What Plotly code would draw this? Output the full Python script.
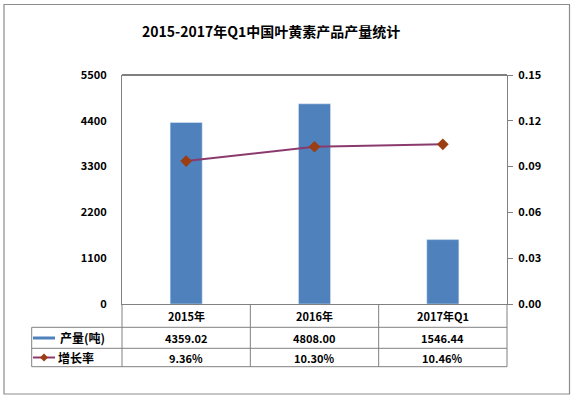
import plotly.graph_objects as go

categories = ["2015年", "2016年", "2017年Q1"]
output_tons = [4359.02, 4808.00, 1546.44]
growth_rate = [0.0936, 0.1030, 0.1046]
left_ticks = [0, 1100, 2200, 3300, 4400, 5500]
right_ticks = [0.00, 0.03, 0.06, 0.09, 0.12, 0.15]
series_names = ["产量(吨)", "增长率"]
title_text = "2015-2017年Q1中国叶黄素产品产量统计"

W, H = 574, 399
L, R, T, B = 122, 67, 75, 95
PW, PH = W - L - R, H - T - B
FONT = "Noto Sans CJK SC, Noto Sans, sans-serif"
BAR_C = "#4F81BD"
LINE_C = "#8B3A6E"
MARK_C = "#9C3D12"
GRID_C = "#808080"


def px_x(p):
    return (p - L) / PW


def px_y(p):
    return (H - B - p) / PH


fig = go.Figure()
fig.add_trace(go.Bar(x=categories, y=output_tons, width=0.25, marker_color=BAR_C,
                     name=series_names[0], yaxis="y"))
fig.add_trace(go.Scatter(x=categories, y=growth_rate, mode="lines+markers", name=series_names[1],
                         yaxis="y2", line=dict(color=LINE_C, width=2),
                         marker=dict(symbol="diamond", size=9, color=MARK_C)))

shapes = []


def hline(y, x0, x1, color=GRID_C):
    shapes.append(dict(type="line", xref="paper", yref="paper", x0=px_x(x0), x1=px_x(x1),
                       y0=px_y(y), y1=px_y(y), line=dict(color=color, width=1)))


def vline(x, y0, y1, color=GRID_C):
    shapes.append(dict(type="line", xref="paper", yref="paper", x0=px_x(x), x1=px_x(x),
                       y0=px_y(y0), y1=px_y(y1), line=dict(color=color, width=1)))


# top border of plot area
hline(T, L, L + PW, "#000000")
# table lines
for yy in [327.3, 348.3, 366.7]:
    hline(yy, 31.7, L + PW)
vline(31.7, 327.3, 366.7)
vline(L, 304, 366.7)
vline(L + PW, 304, 366.7)
for k in range(1, len(categories)):
    shapes.append(dict(type="line", xref="x", yref="paper", x0=k - 0.5, x1=k - 0.5,
                       y0=px_y(304), y1=px_y(366.7), line=dict(color=GRID_C, width=1)))
# outer border
shapes.append(dict(type="rect", xref="paper", yref="paper", x0=px_x(4), x1=px_x(569.5),
                   y0=px_y(4.5), y1=px_y(394), line=dict(color="#8C8C8C", width=1.2)))
# legend keys in table
shapes.append(dict(type="rect", xref="paper", yref="paper", x0=px_x(33), x1=px_x(55),
                   y0=px_y(339.5), y1=px_y(336.5), fillcolor=BAR_C, line=dict(width=0)))
shapes.append(dict(type="line", xref="paper", yref="paper", x0=px_x(33), x1=px_x(55),
                   y0=px_y(357.5), y1=px_y(357.5), line=dict(color=LINE_C, width=2)))
cx, cy, d = 44, 357.5, 4
shapes.append(dict(type="path", xref="paper", yref="paper",
                   path=f"M {px_x(cx-d)} {px_y(cy)} L {px_x(cx)} {px_y(cy-d)} L {px_x(cx+d)} {px_y(cy)} L {px_x(cx)} {px_y(cy+d)} Z",
                   fillcolor=MARK_C, line=dict(width=0)))

ann = []
bold = dict(family=FONT, size=11, color="#000000", weight="bold")
for i, c in enumerate(categories):
    ann.append(dict(x=c, xref="x", y=px_y(315.7), yref="paper", text=c, showarrow=False,
                    font=bold, xanchor="center", yanchor="middle"))
    ann.append(dict(x=c, xref="x", y=px_y(337.8), yref="paper", text=f"{output_tons[i]:.2f}",
                    showarrow=False, font=bold, xanchor="center", yanchor="middle"))
    ann.append(dict(x=c, xref="x", y=px_y(357.5), yref="paper", text=f"{growth_rate[i]*100:.2f}%",
                    showarrow=False, font=bold, xanchor="center", yanchor="middle"))
ann.append(dict(x=px_x(58), xref="paper", y=px_y(337.8), yref="paper", text=series_names[0],
                showarrow=False, font=dict(family=FONT, size=12, color="#000000", weight="bold"),
                xanchor="left", yanchor="middle"))
ann.append(dict(x=px_x(56), xref="paper", y=px_y(357.5), yref="paper", text=series_names[1],
                showarrow=False, font=dict(family=FONT, size=12, color="#000000", weight="bold"),
                xanchor="left", yanchor="middle"))
ann.append(dict(x=px_x(271), xref="paper", y=px_y(31), yref="paper", text=title_text,
                showarrow=False, font=dict(family=FONT, size=14, color="#000000", weight="bold"),
                xanchor="center", yanchor="middle"))

fig.update_layout(
    width=W, height=H, margin=dict(l=L, r=R, t=T, b=B, autoexpand=False),
    paper_bgcolor="white", plot_bgcolor="white", showlegend=False,
    font=dict(family=FONT, color="#000000"),
    xaxis=dict(type="category", range=[-0.5, 2.5], showticklabels=False, showgrid=False,
               showline=True, linecolor=GRID_C, linewidth=1, zeroline=False, fixedrange=True),
    yaxis=dict(range=[0, 5500], tickvals=left_ticks, showgrid=False, zeroline=False,
               showline=True, linecolor=GRID_C, linewidth=1, ticks="",
               tickfont=bold, ticklabelstandoff=12),
    yaxis2=dict(range=[0, 0.15], tickvals=right_ticks, tickformat=".2f", overlaying="y",
                side="right", showgrid=False, zeroline=False, showline=True, linecolor=GRID_C,
                linewidth=1, ticks="outside", ticklen=5, tickcolor=GRID_C,
                tickfont=bold, ticklabelstandoff=3),
    shapes=shapes, annotations=ann,
)

fig.write_html("out.html", config={"displayModeBar": False},
               post_script="document.body.style.margin='0';document.body.style.overflow='hidden';")
